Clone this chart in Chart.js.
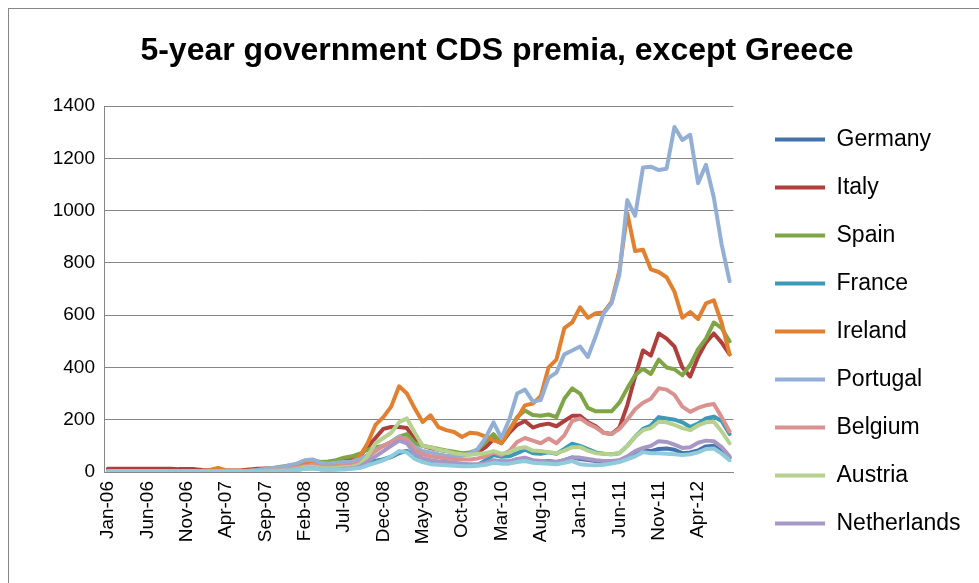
<!DOCTYPE html>
<html>
<head>
<meta charset="utf-8">
<script src="https://cdn.jsdelivr.net/npm/chart.js@4.4.1/dist/chart.umd.min.js"></script>
<style>
  html, body { margin: 0; padding: 0; background: #ffffff; }
  #wrap { width: 979px; height: 583px; }
</style>
</head>
<body>
<div id="wrap"><canvas id="c" width="979" height="583"></canvas></div>
<script>
const TITLE = "5-year government CDS premia, except Greece";

const months = [
  "Jan-06","Feb-06","Mar-06","Apr-06","May-06","Jun-06","Jul-06","Aug-06","Sep-06","Oct-06","Nov-06","Dec-06",
  "Jan-07","Feb-07","Mar-07","Apr-07","May-07","Jun-07","Jul-07","Aug-07","Sep-07","Oct-07","Nov-07","Dec-07",
  "Jan-08","Feb-08","Mar-08","Apr-08","May-08","Jun-08","Jul-08","Aug-08","Sep-08","Oct-08","Nov-08","Dec-08",
  "Jan-09","Feb-09","Mar-09","Apr-09","May-09","Jun-09","Jul-09","Aug-09","Sep-09","Oct-09","Nov-09","Dec-09",
  "Jan-10","Feb-10","Mar-10","Apr-10","May-10","Jun-10","Jul-10","Aug-10","Sep-10","Oct-10","Nov-10","Dec-10",
  "Jan-11","Feb-11","Mar-11","Apr-11","May-11","Jun-11","Jul-11","Aug-11","Sep-11","Oct-11","Nov-11","Dec-11",
  "Jan-12","Feb-12","Mar-12","Apr-12","May-12","Jun-12","Jul-12","Aug-12"
];

const yTicks = [0, 200, 400, 600, 800, 1000, 1200, 1400];

const germany = [
  2,2,2,2,2,2,2,2,2,2,2,2,
  2,2,2,2,2,2,3,4,5,6,7,9,
  12,18,22,15,12,13,14,15,20,35,42,48,
  58,72,80,55,42,35,32,30,28,26,25,27,
  35,42,40,40,48,52,42,40,42,38,45,56,
  50,46,42,40,40,44,55,72,83,80,88,90,
  85,72,75,82,98,100,82,55
];
const italy = [
  12,12,12,12,12,12,12,12,12,11,11,11,
  8,7,6,6,6,7,10,12,13,14,16,20,
  28,38,45,35,32,40,45,48,60,95,130,165,
  172,172,168,125,100,92,85,80,75,68,68,75,
  95,125,110,150,180,195,170,180,185,175,195,215,
  215,190,175,150,145,170,255,365,465,445,530,510,
  480,400,365,440,495,530,495,450
];
const spain = [
  3,3,3,3,3,3,3,3,3,3,3,3,
  3,3,3,3,3,3,5,8,12,15,20,25,
  30,40,45,38,40,45,55,60,70,85,95,100,
  115,135,145,110,100,95,88,82,78,72,75,85,
  115,145,110,160,210,235,218,215,220,210,280,320,
  300,245,232,232,232,265,320,370,395,375,430,400,
  393,370,410,470,510,572,550,500
];
const france = [
  2,2,2,2,2,2,2,2,2,2,2,2,
  2,2,2,2,2,2,2,3,4,5,6,8,
  10,14,16,12,11,12,13,15,20,32,40,48,
  58,75,80,52,40,35,32,30,28,26,25,28,
  45,65,58,60,72,85,72,70,75,70,88,108,
  100,88,75,70,68,72,100,135,165,178,210,205,
  200,190,172,185,205,212,195,145
];
const ireland = [
  3,3,3,3,3,3,3,3,3,3,3,3,
  4,8,16,6,5,5,6,8,10,12,15,18,
  22,32,38,28,25,28,32,38,60,110,180,210,
  250,328,300,243,191,217,172,160,153,134,150,147,
  135,121,112,160,205,255,262,290,400,430,550,572,
  630,590,607,610,650,770,990,845,850,775,765,745,
  690,590,612,585,645,657,570,450
];
const portugal = [
  4,4,4,4,4,4,4,4,4,4,4,4,
  4,4,4,4,4,4,5,8,12,15,18,25,
  32,45,48,35,32,35,38,40,48,65,85,100,
  115,135,125,95,80,75,68,62,60,62,70,88,
  130,190,130,200,300,315,270,275,360,380,450,465,
  480,440,520,607,645,755,1040,980,1165,1168,1155,1160,
  1320,1270,1290,1105,1175,1050,870,730
];
const belgium = [
  2,2,2,2,2,2,2,2,2,2,2,2,
  2,2,2,2,2,2,2,3,4,6,8,10,
  15,22,28,22,20,22,25,28,35,55,80,100,
  115,130,125,85,68,60,55,52,50,48,48,52,
  60,75,65,80,115,130,120,110,128,110,140,195,
  205,185,170,150,145,165,200,240,265,280,320,315,
  295,250,230,245,255,260,210,155
];
const austria = [
  2,2,2,2,2,2,2,2,2,2,2,2,
  2,2,2,2,2,2,2,3,4,5,6,8,
  12,18,20,15,14,15,18,20,28,60,110,130,
  150,190,205,150,100,95,85,80,72,68,66,70,
  72,80,70,75,90,95,82,80,76,72,82,95,
  95,82,72,70,68,72,100,135,160,168,192,190,
  180,168,160,178,190,192,155,110
];
const netherlands = [
  1,1,1,1,1,1,1,1,1,1,1,1,
  1,1,1,1,1,1,1,2,3,4,5,6,
  8,12,14,10,9,10,12,14,20,40,60,80,
  100,120,110,70,52,45,40,38,35,32,30,30,
  35,45,40,40,50,55,45,42,40,38,45,55,
  55,50,45,42,42,45,60,80,92,100,118,115,
  105,92,95,112,120,118,95,60
];
const finland = [
  2,2,2,2,2,2,2,2,2,2,2,2,
  2,2,2,2,2,2,2,2,3,4,5,6,
  8,12,14,10,9,10,10,12,15,25,35,45,
  60,80,75,50,38,30,28,26,24,22,22,24,
  28,35,32,32,38,42,35,33,32,30,35,42,
  30,27,26,28,32,38,48,60,76,72,72,70,
  68,65,68,75,88,90,70,45
];

const seriesNames = ["Germany","Italy","Spain","France","Ireland","Portugal","Belgium","Austria","Netherlands","Finland"];
const seriesValues = [germany, italy, spain, france, ireland, portugal, belgium, austria, netherlands, finland];
const seriesColors = ["#4472AC","#AE3F3C","#7EA646","#3C9AB5","#E2802F","#93AFD6","#D9928F","#B6D08E","#A797C5","#8FCBDC"];
const LEGEND_COUNT = 9;

const FONT = "'Liberation Sans', Arial, sans-serif";

const datasets = seriesNames.map((name, i) => ({
  label: name,
  data: seriesValues[i],
  borderColor: seriesColors[i],
  backgroundColor: seriesColors[i],
  borderWidth: 4,
  borderJoinStyle: 'round',
  borderCapStyle: 'round',
  pointRadius: 0,
  pointHoverRadius: 0,
  tension: 0,
  fill: false,
  order: seriesNames.length - i
}));

const frame = {
  id: 'frame',
  beforeDraw(chart) {
    const ctx = chart.ctx;
    ctx.save();
    ctx.fillStyle = '#ffffff';
    ctx.fillRect(0, 0, chart.width, chart.height);
    ctx.strokeStyle = '#868686';
    ctx.lineWidth = 1;
    ctx.strokeRect(8.5, 8.5, 1200, 1200);
    ctx.restore();
  }
};

const blockPlace = {
  id: 'blockPlace',
  afterLayout(chart) {
    const lg = chart.legend;
    if (lg) {
      const pad = lg.options.labels.padding;
      const w = lg.width, h = lg.height;
      lg.left = 775 - pad; lg.right = lg.left + w;
      lg.top = 128 - pad; lg.bottom = lg.top + h;
    }
    const tb = chart.titleBlock;
    if (tb) { tb.left += 20; tb.right += 20; }
  }
};

new Chart(document.getElementById('c'), {
  type: 'line',
  data: { labels: months, datasets },
  plugins: [frame, blockPlace],
  options: {
    responsive: false,
    animation: false,
    devicePixelRatio: 1,
    layout: { padding: { left: 0, right: 25, top: 0, bottom: 0 } },
    plugins: {
      title: {
        display: true,
        text: TITLE,
        color: '#000000',
        font: { family: FONT, size: 32, weight: 'bold' },
        padding: { top: 32, bottom: 35.6 }
      },
      legend: {
        display: true,
        position: 'right',
        align: 'start',
        labels: {
          color: '#000000',
          font: { family: FONT, size: 23 },
          boxWidth: 50,
          boxHeight: 4,
          padding: 25,
          filter: (item) => item.datasetIndex < LEGEND_COUNT,
          sort: (a, b) => a.datasetIndex - b.datasetIndex,
          generateLabels(chart) {
            return Chart.defaults.plugins.legend.labels.generateLabels(chart)
              .map(l => Object.assign(l, { lineWidth: 0, fillStyle: l.strokeStyle }));
          }
        }
      },
      tooltip: { enabled: false }
    },
    scales: {
      x: {
        type: 'category',
        offset: true,
        grid: { display: false, drawTicks: false },
        border: { display: true, color: '#868686', width: 1 },
        ticks: {
          autoSkip: false,
          maxRotation: 90,
          minRotation: 90,
          padding: 9,
          color: '#000000',
          font: { family: FONT, size: 19 },
          callback(value, index) { return index % 5 === 0 ? this.getLabelForValue(value) : ''; }
        },
        afterFit(s) { s.height = 583 - 472; }
      },
      y: {
        min: yTicks[0],
        max: yTicks[yTicks.length - 1],
        afterBuildTicks(s) { s.ticks = yTicks.map(v => ({ value: v })); },
        grid: { color: '#868686', lineWidth: 1, drawTicks: false },
        border: { display: true, color: '#868686', width: 1 },
        ticks: {
          padding: 9,
          color: '#000000',
          font: { family: FONT, size: 19 },
          callback: (value) => String(value)
        },
        afterFit(s) { s.width = 104; }
      }
    }
  }
});
</script>
</body>
</html>
